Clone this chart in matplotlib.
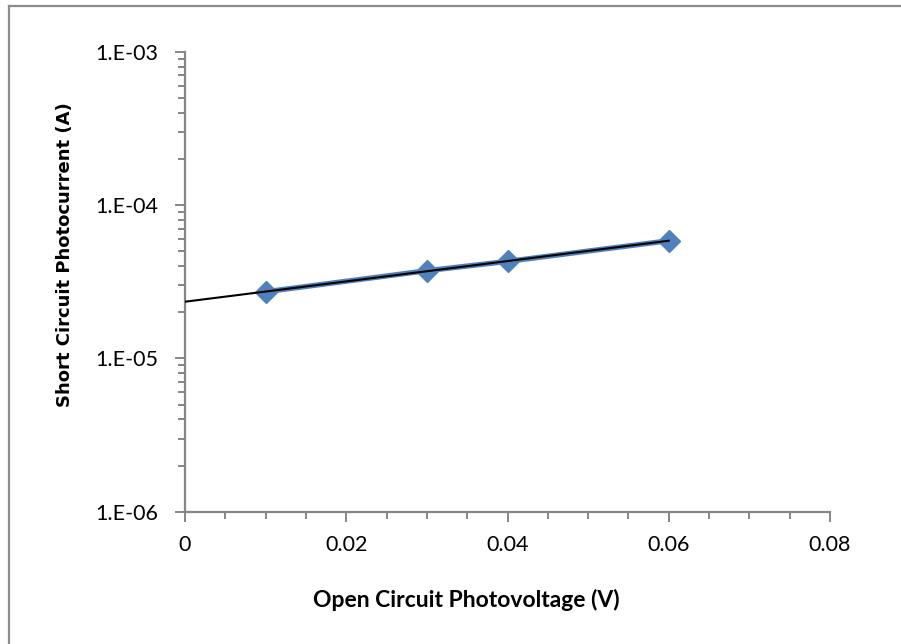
import numpy as np
import matplotlib
matplotlib.use("Agg")
import matplotlib.pyplot as plt
from matplotlib.lines import Line2D
from matplotlib.ticker import LogLocator, FixedLocator, MultipleLocator, NullFormatter

# Measured photovoltage / photocurrent pairs
voltage = [0.01, 0.03, 0.04, 0.06]
current = [2.72e-5, 3.73e-5, 4.29e-5, 5.85e-5]

x_ticks = [0, 0.02, 0.04, 0.06, 0.08]
x_tick_labels = ["0", "0.02", "0.04", "0.06", "0.08"]
y_ticks = [1e-6, 1e-5, 1e-4, 1e-3]
y_tick_labels = ["1.E-06", "1.E-05", "1.E-04", "1.E-03"]

W, H, DPI = 901, 644, 100
fig = plt.figure(figsize=(W / DPI, H / DPI), dpi=DPI)
fig.patch.set_facecolor("white")

# Chart area frame (top and left edges)
frame_col = "#8c8c8c"
fig.add_artist(Line2D([9 / W, 9 / W], [0, 1 - 6 / H], transform=fig.transFigure,
                      color=frame_col, lw=1.6))
fig.add_artist(Line2D([9 / W, 1], [1 - 6 / H, 1 - 6 / H], transform=fig.transFigure,
                      color=frame_col, lw=1.6))

left, right, top, bottom = 185, 830, 51.7, 511.7
ax = fig.add_axes([left / W, 1 - bottom / H, (right - left) / W, (bottom - top) / H])

ax.set_yscale("log")
ax.set_xlim(0, 0.08)
ax.set_ylim(1e-6, 1e-3)

# Exponential trendline fitted to the data, extended back to V = 0
slope, intercept = np.polyfit(voltage, np.log10(current), 1)
xt = np.linspace(0, max(voltage), 50)
yt = 10 ** (slope * xt + intercept)

blue = "#4F81BD"
ax.plot(voltage, current, color=blue, lw=3.8, marker="D", markersize=11,
        markerfacecolor=blue, markeredgecolor=blue, zorder=3, solid_capstyle="round")
ax.plot(xt, yt, color="black", lw=1.5, zorder=4)

# Axes styling
axis_col = "#868686"
for s in ["top", "right"]:
    ax.spines[s].set_visible(False)
for s in ["left", "bottom"]:
    ax.spines[s].set_color(axis_col)
    ax.spines[s].set_linewidth(1.6)

tick_font = {"family": ["Lato", "DejaVu Sans"], "size": 15.5}
ax.xaxis.set_major_locator(FixedLocator(x_ticks))
ax.set_xticklabels(x_tick_labels, fontdict=tick_font)
ax.xaxis.set_minor_locator(MultipleLocator(0.005))
ax.yaxis.set_major_locator(FixedLocator(y_ticks))
ax.set_yticklabels(y_tick_labels, fontdict=tick_font)
ax.yaxis.set_minor_locator(LogLocator(base=10, subs=np.arange(2, 10)))
ax.yaxis.set_minor_formatter(NullFormatter())

ax.tick_params(axis="both", which="major", direction="out", length=7, width=1.4,
               color=axis_col, labelcolor="black")
ax.tick_params(axis="both", which="minor", direction="out", length=5, width=1.4,
               color=axis_col)
ax.tick_params(axis="x", which="major", pad=10)
ax.tick_params(axis="y", which="major", pad=12)

fig.text(466 / W, 1 - 600 / H, "Open Circuit Photovoltage (V)", ha="center", va="center",
         fontsize=16.5, fontweight="bold", family=["Lato", "DejaVu Sans"])
fig.text(65 / W, 1 - 255 / H, "Short Circuit Photocurrent (A)", ha="center", va="center",
         rotation=90, fontsize=13, fontweight="bold", family="DejaVu Sans")

fig.savefig("out.png", dpi=DPI, facecolor="white")
